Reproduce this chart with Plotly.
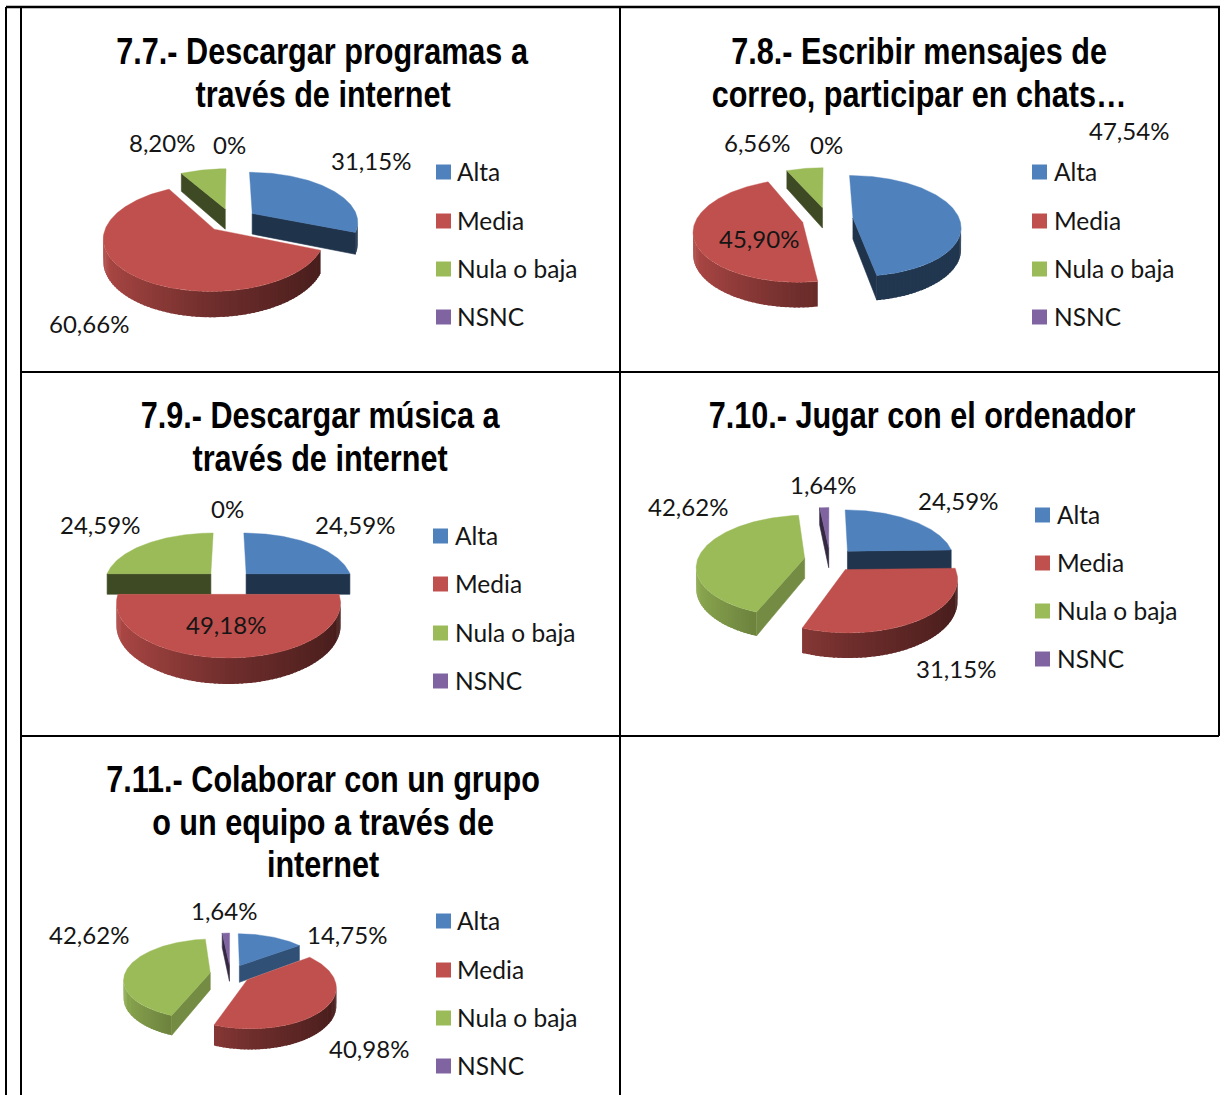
import math
import plotly.graph_objects as go

# ---------- data ----------
categories = ["Alta", "Media", "Nula o baja", "NSNC"]
colors = ["#4f81bd", "#c0504d", "#9bbb59", "#8064a2"]

title_77 = ["7.7.- Descargar programas a", "través de internet"]
title_78 = ["7.8.- Escribir mensajes de", "correo, participar en chats…"]
title_79 = ["7.9.- Descargar música a", "través de internet"]
title_710 = ["7.10.- Jugar con el ordenador"]
title_711 = ["7.11.- Colaborar con un grupo", "o un equipo a través de", "internet"]

values_77 = [31.15, 60.66, 8.20, 0]
values_78 = [47.54, 45.90, 6.56, 0]
values_79 = [24.59, 49.18, 24.59, 0]
values_710 = [24.59, 31.15, 42.62, 1.64]
values_711 = [14.75, 40.98, 42.62, 1.64]

# ---------- layout of each panel (pixel space of the page) ----------
panels = [
    dict(title=title_77, values=values_77, cx=231.5, cy=220, rx=106, ry=49.5, d=21, tx=322.5, ty=51.5, mx=443.5, lx=455,
         ly=[172, 221, 269, 317],
         lab=[(371, 160), (89, 323), (162, 142), (229, 144)]),
    dict(title=title_78, values=values_78, cx=827.5, cy=219, rx=106.5, ry=49.5, d=21, tx=919, ty=51.5, mx=1039.5, lx=1051.5,
         ly=[172, 221, 269, 317],
         lab=[(1129, 130), (759, 238), (757, 142), (826, 144)]),
    dict(title=title_79, values=values_79, cx=228.5, cy=582, rx=106.5, ry=49.5, d=21, tx=320, ty=415.5, mx=440.5, lx=452.5,
         ly=[536, 584, 633, 681],
         lab=[(355, 524), (226, 624), (100, 524), (227, 508)]),
    dict(title=title_710, values=values_710, cx=830, cy=559.5, rx=107, ry=50, d=20.5, tx=922, ty=415.5, mx=1042.5, lx=1054.5,
         ly=[515, 563, 611, 659],
         lab=[(958, 500), (956, 668), (688, 506), (823, 484)]),
    dict(title=title_711, values=values_711, cx=230.5, cy=974, rx=85.5, ry=39.4, d=17, tx=323, ty=779.5, mx=443.5, lx=455,
         ly=[921, 970, 1018, 1066],
         lab=[(347, 934), (369, 1048), (89, 934), (224, 910)]),
]

PERSP = 0.155
EXPLODE = 0.24
LINE_STEP = 42.5
TITLE_FONT = dict(family="Liberation Sans, sans-serif", size=36, color="#000000", weight="bold")
LABEL_FONT = dict(family="Lato, Open Sans, sans-serif", size=24, color="#151515")
LEGEND_FONT = dict(family="Lato, Open Sans, sans-serif", size=24.5, color="#151515")


def shade(hex_color, f):
    r, g, b = (int(hex_color[i:i + 2], 16) for i in (1, 3, 5))
    return "rgb(%d,%d,%d)" % (r * f, g * f, b * f)


def rim_factor(u, idx):
    if idx == 0:
        return 0.42
    if u < 0:
        return 0.58 + (-u) * 0.34
    return 0.58 - u * 0.22


fig = go.Figure()


def poly(xs, ys, color, width=0.6):
    fig.add_trace(go.Scatter(x=xs, y=ys, mode="lines", fill="toself", fillcolor=color,
                             line=dict(color=color, width=width), hoverinfo="skip", showlegend=False))


def draw_pie(p):
    total = sum(p["values"])
    rx, ry = p["rx"], p["ry"]
    cx, cy, depth = p["cx"], p["cy"], p["d"]

    slices, start = [], 0.0
    for i, v in enumerate(p["values"]):
        sweep = 360.0 * v / total
        if v > 0:
            slices.append((i, start, start + sweep))
        start += sweep

    def project(a0, a1, theta, r=1.0):
        mid = math.radians((a0 + a1) / 2)
        t = math.radians(theta)
        u = EXPLODE * math.sin(mid) + r * math.sin(t)
        w = EXPLODE * math.cos(mid) + r * math.cos(t)
        s = 1.0 / (1.0 + PERSP * w)
        return cx + rx * u * s, cy - ry * w * s, depth * s

    def arc(a0, a1):
        n = max(2, int((a1 - a0) / 1.0) + 1)
        return [a0 + (a1 - a0) * j / n for j in range(n + 1)]

    # back slices first
    order = sorted(slices, key=lambda sl: -math.cos(math.radians((sl[1] + sl[2]) / 2)))
    for i, a0, a1 in order:
        base = colors[i]
        ax, ay, ad = project(a0, a1, 0, 0.0)
        # outer wall, split in short overlapping strips for the shading
        angles = arc(a0, a1)
        step = 2
        for j in range(0, len(angles) - 1, step):
            seg = angles[j:j + step + 2]
            midt = math.radians((angles[j] + angles[min(j + step, len(angles) - 1)]) / 2)
            if math.cos(midt) > -0.12:
                continue
            pts = [project(a0, a1, th) for th in seg]
            xs = [q[0] for q in pts] + [q[0] for q in reversed(pts)]
            ys = [q[1] for q in pts] + [q[1] + q[2] for q in reversed(pts)]
            poly(xs + xs[:1], ys + ys[:1], shade(base, rim_factor(math.sin(midt), i)), width=0)
        # cut faces that face the viewer
        for theta, sign in ((a0, 1), (a1, -1)):
            t = math.radians(theta)
            nu, nv = -sign * math.cos(t), sign * math.sin(t)
            if nv < 0:
                ex, ey, ed = project(a0, a1, theta)
                f = 0.40 + 0.37 * max(0.0, nu)
                poly([ax, ex, ex, ax, ax], [ay, ey, ey + ed, ay + ad, ay], shade(base, f))
        # top face
        pts = [project(a0, a1, th) for th in angles]
        xs = [ax] + [q[0] for q in pts] + [ax]
        ys = [ay] + [q[1] for q in pts] + [ay]
        poly(xs, ys, base, width=0.4)

    # percentage labels, legend and title
    annotations = []
    for (x, y), v in zip(p["lab"], p["values"]):
        text = "0%" if v == 0 else ("%.2f%%" % v).replace(".", ",")
        annotations.append(dict(x=x, y=y, text=text, font=LABEL_FONT))
    for name, y in zip(categories, p["ly"]):
        annotations.append(dict(x=p["lx"], y=y - 1, text=name, font=LEGEND_FONT, xanchor="left"))
    for j, line in enumerate(p["title"]):
        annotations.append(dict(x=p["tx"], y=p["ty"] + j * LINE_STEP, text=line, font=TITLE_FONT))
    for a in annotations:
        a.setdefault("xanchor", "center")
        fig.add_annotation(showarrow=False, yanchor="middle", xref="x", yref="y", **a)
    fig.add_trace(go.Scatter(x=[p["mx"]] * 4, y=p["ly"], mode="markers",
                             marker=dict(symbol="square", size=15, color=colors, line=dict(width=0)),
                             hoverinfo="skip", showlegend=False))


for panel in panels:
    draw_pie(panel)

# table rules
rules = [
    (6, 7, 1220, 7, 2.6), (6, 7, 6, 1095, 2), (21, 7, 21, 1095, 2), (620, 7, 620, 1095, 2),
    (1219, 7, 1219, 736, 2), (21, 372, 1219, 372, 2), (21, 736, 1219, 736, 2),
]
for x0, y0, x1, y1, w in rules:
    fig.add_shape(type="line", x0=x0, y0=y0, x1=x1, y1=y1, line=dict(color="#000000", width=w), layer="above")

fig.update_layout(
    width=1230, height=1095, margin=dict(l=0, r=0, t=0, b=0),
    paper_bgcolor="#ffffff", plot_bgcolor="#ffffff", showlegend=False, hovermode=False,
    xaxis=dict(range=[0, 1230], visible=False, fixedrange=True),
    yaxis=dict(range=[1095, 0], visible=False, fixedrange=True),
)

# The reference titles use a narrow face; squeeze the bold title text to that width.
narrow_titles = """
document.body.style.margin='0';document.body.style.overflow='hidden';
(function(){
  function squeeze(){
    document.querySelectorAll('.annotation-text').forEach(function(el){
      if(parseFloat(el.style.fontSize)>=30 && !el.getAttribute('textLength')){
        el.setAttribute('textLength', (el.getComputedTextLength()*0.85).toFixed(1));
        el.setAttribute('lengthAdjust','spacingAndGlyphs');
      }
    });
  }
  squeeze();
  setTimeout(squeeze,30);
})();
"""
fig.write_html("out.html", config={"displayModeBar": False}, post_script=narrow_titles)
